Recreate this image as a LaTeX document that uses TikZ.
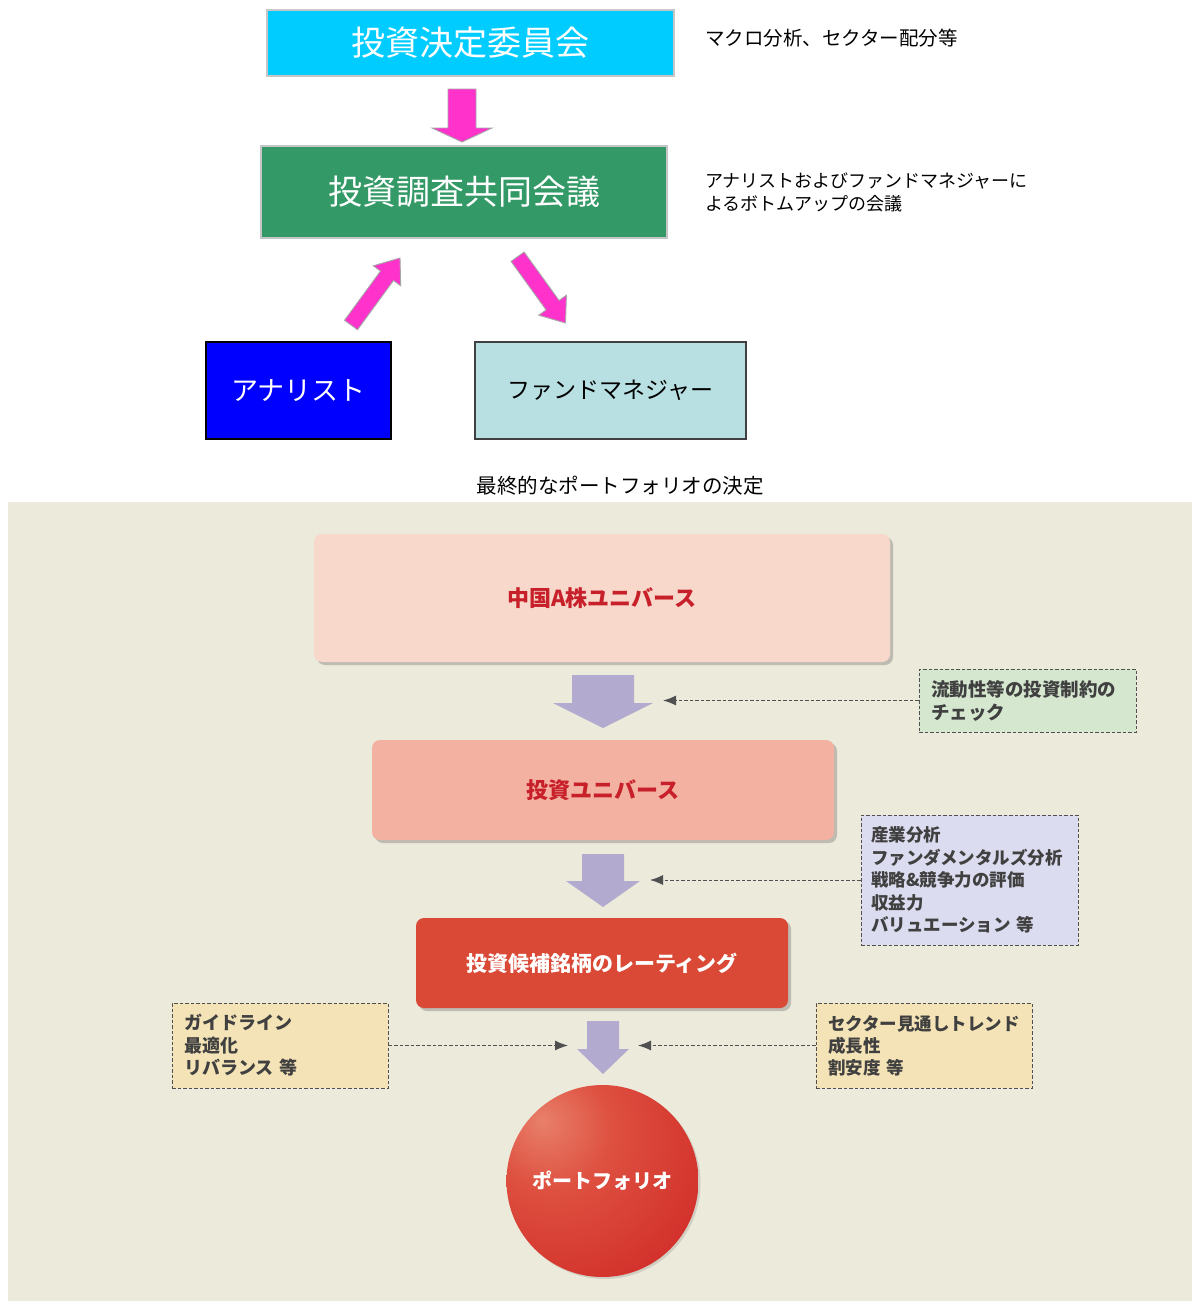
\documentclass[tikz,border=0pt]{standalone}
\usepackage{fontspec}
\setmainfont{Noto Sans CJK JP}
\usetikzlibrary{shadows,arrows.meta,shapes.geometric}
\definecolor{cyanbox}{HTML}{00CCFF}
\definecolor{greenbox}{HTML}{339966}
\definecolor{bluebox}{HTML}{0000FF}
\definecolor{fmbox}{HTML}{B8E0E2}
\definecolor{pinkarr}{HTML}{FF33CC}
\definecolor{panel}{HTML}{ECEADB}
\definecolor{boxA}{HTML}{F7D8CB}
\definecolor{boxB}{HTML}{F3B1A2}
\definecolor{boxC}{HTML}{DA4836}
\definecolor{redtext}{HTML}{C8202A}
\definecolor{purparr}{HTML}{B3ABCF}
\definecolor{dgreen}{HTML}{D6E7D0}
\definecolor{dlav}{HTML}{DCDCF0}
\definecolor{dyellow}{HTML}{F4E3B6}
\definecolor{dtext}{HTML}{404040}
\definecolor{dline}{HTML}{505050}
\definecolor{ballA}{HTML}{E8806A}
\definecolor{ballB}{HTML}{DE5040}
\definecolor{ballC}{HTML}{D2302A}
\definecolor{ballD}{HTML}{C41A1C}
\pgfdeclareradialshading{ballred}{\pgfpoint{-16bp}{16bp}}{%
  color(0bp)=(ballA);
  color(16bp)=(ballB);
  color(40bp)=(ballC);
  color(66bp)=(ballD);
  color(100bp)=(ballD)}
\begin{document}
\begin{tikzpicture}[x=1pt,y=-1pt,
  topbox/.style={rectangle, inner sep=0pt, line width=1.6pt, text=white,
    font=\fontsize{34}{38}\selectfont},
  sidetext/.style={anchor=west, align=left, inner sep=0pt,
    font=\fontsize{18.5}{23}\selectfont},
  pinkblock/.style={fill=pinkarr, draw=gray!70, line width=0.9pt},
  purpblock/.style={fill=purparr, draw=none},
  roundbox/.style={rectangle, rounded corners=8pt, inner sep=0pt,
    font=\bfseries\fontsize{22}{26}\selectfont,
    drop shadow={shadow xshift=3pt, shadow yshift=-3pt, opacity=0.35, fill=black!60}},
  dashbox/.style={rectangle, draw=dline, dashed, dash pattern=on 3.5pt off 2pt,
    line width=1pt, inner xsep=12pt, inner ysep=0pt, align=left, text=dtext,
    font=\bfseries\fontsize{18}{22.5}\selectfont},
  darrow/.style={draw=dline, dashed, dash pattern=on 3.5pt off 2pt, line width=1pt,
    -{Latex[length=13pt,width=10pt]}}
]
\useasboundingbox (0,0) rectangle (1192,1301);
\fill[white] (0,0) rectangle (1192,1301);

% ---------- upper part ----------
\node[topbox, fill=cyanbox, draw=gray!45, minimum width=407pt, minimum height=66pt]
  (ctee) at (470.5,43) {投資決定委員会};
\node[topbox, fill=greenbox, draw=gray!45, minimum width=406pt, minimum height=92pt]
  (joint) at (464,192) {投資調査共同会議};
\node[topbox, fill=bluebox, draw=black, minimum width=185pt, minimum height=97pt,
  font=\fontsize{27}{32}\selectfont] (ana) at (298.5,390.5) {アナリスト};
\node[topbox, fill=fmbox, draw=black!75, text=black, minimum width=271pt, minimum height=97pt,
  font=\fontsize{23}{28}\selectfont] (fm) at (610.5,390.5) {ファンドマネジャー};

\node[sidetext, font=\fontsize{19.5}{23}\selectfont] (t1) at (705,38) {マクロ分析、セクター配分等};
\node[sidetext, font=\fontsize{18}{23}\selectfont] (t2) at (705,192.5) {アナリストおよびファンドマネジャーに\\よるボトムアップの会議};
\node[inner sep=0pt, font=\fontsize{20.5}{24}\selectfont] (cap) at (620,486) {最終的なポートフォリオの決定};

% pink block arrows
\draw[pinkblock] (448,89) -- (476,89) -- (476,128) -- (492,128) -- (462,142)
  -- (432,128) -- (448,128) -- cycle;
\draw[pinkblock] (344.5,320.3) -- (380.5,271.1) -- (373.3,265.8) -- (400,258)
  -- (400.7,285.8) -- (393.5,280.5) -- (357.5,329.7) -- cycle;
\draw[pinkblock] (511.1,261.4) -- (546.1,309.9) -- (538.8,315.2) -- (565.5,323)
  -- (566.4,295.2) -- (559.1,300.5) -- (524.1,252) -- cycle;

% ---------- lower panel ----------
\fill[panel] (8,502) rectangle (1192,1301);

\node[roundbox, fill=boxA, text=redtext, minimum width=576pt, minimum height=128pt]
  (uA) at (602,598) {中国A株ユニバース};
\node[roundbox, fill=boxB, text=redtext, minimum width=462pt, minimum height=100pt]
  (uB) at (603,790) {投資ユニバース};
\node[roundbox, fill=boxC, text=white, minimum width=372pt, minimum height=90pt,
  font=\bfseries\fontsize{21}{25}\selectfont]
  (uC) at (602,963) {投資候補銘柄のレーティング};

% purple block arrows
\fill[purpblock] (572,675) -- (634,675) -- (634,703) -- (653,703) -- (603,728)
  -- (553,703) -- (572,703) -- cycle;
\fill[purpblock] (582,854) -- (624,854) -- (624,881) -- (640,881) -- (603,907)
  -- (566,881) -- (582,881) -- cycle;
\fill[purpblock] (587,1021) -- (619,1021) -- (619,1049) -- (629,1049) -- (603,1074)
  -- (577,1049) -- (587,1049) -- cycle;

% dashed info boxes
\node[dashbox, fill=dgreen, minimum width=217pt, minimum height=63pt, text width=193pt,
  font=\bfseries\fontsize{18.5}{23}\selectfont]
  (liq) at (1027.5,700.5) {流動性等の投資制約の\\チェック};
\node[dashbox, fill=dlav, minimum width=217pt, minimum height=130pt, text width=197pt,
  inner xsep=10pt, font=\bfseries\fontsize{17.5}{22.5}\selectfont]
  (ana2) at (969.5,880) {産業分析\\ファンダメンタルズ分析\\戦略\&競争力の評価\\収益力\\バリュエーション 等};
\node[dashbox, fill=dyellow, minimum width=216pt, minimum height=85pt, text width=192pt]
  (guide) at (280,1045.5) {ガイドライン\\最適化\\リバランス 等};
\node[dashbox, fill=dyellow, minimum width=216pt, minimum height=85pt, text width=192pt,
  font=\bfseries\fontsize{17.5}{22}\selectfont]
  (sect) at (924,1045.5) {セクター見通しトレンド\\成長性\\割安度 等};

\coordinate (p1) at (663,700.5);
\coordinate (p2) at (650,880);
\coordinate (p3) at (568,1045.5);
\coordinate (p4) at (638,1045.5);
\draw[darrow] (liq.west) -- (p1);
\draw[darrow] (ana2.west) -- (p2);
\draw[darrow] (guide.east) -- (p3);
\draw[darrow] (sect.west) -- (p4);

% portfolio ball
\node[circle, minimum size=192pt, inner sep=0pt, shading=ballred, text=white,
  font=\bfseries\fontsize{20}{24}\selectfont,
  drop shadow={shadow xshift=2pt, shadow yshift=-2pt, opacity=0.2, fill=black!60}]
  (pf) at (602.5,1181) {ポートフォリオ};
\end{tikzpicture}
\end{document}
